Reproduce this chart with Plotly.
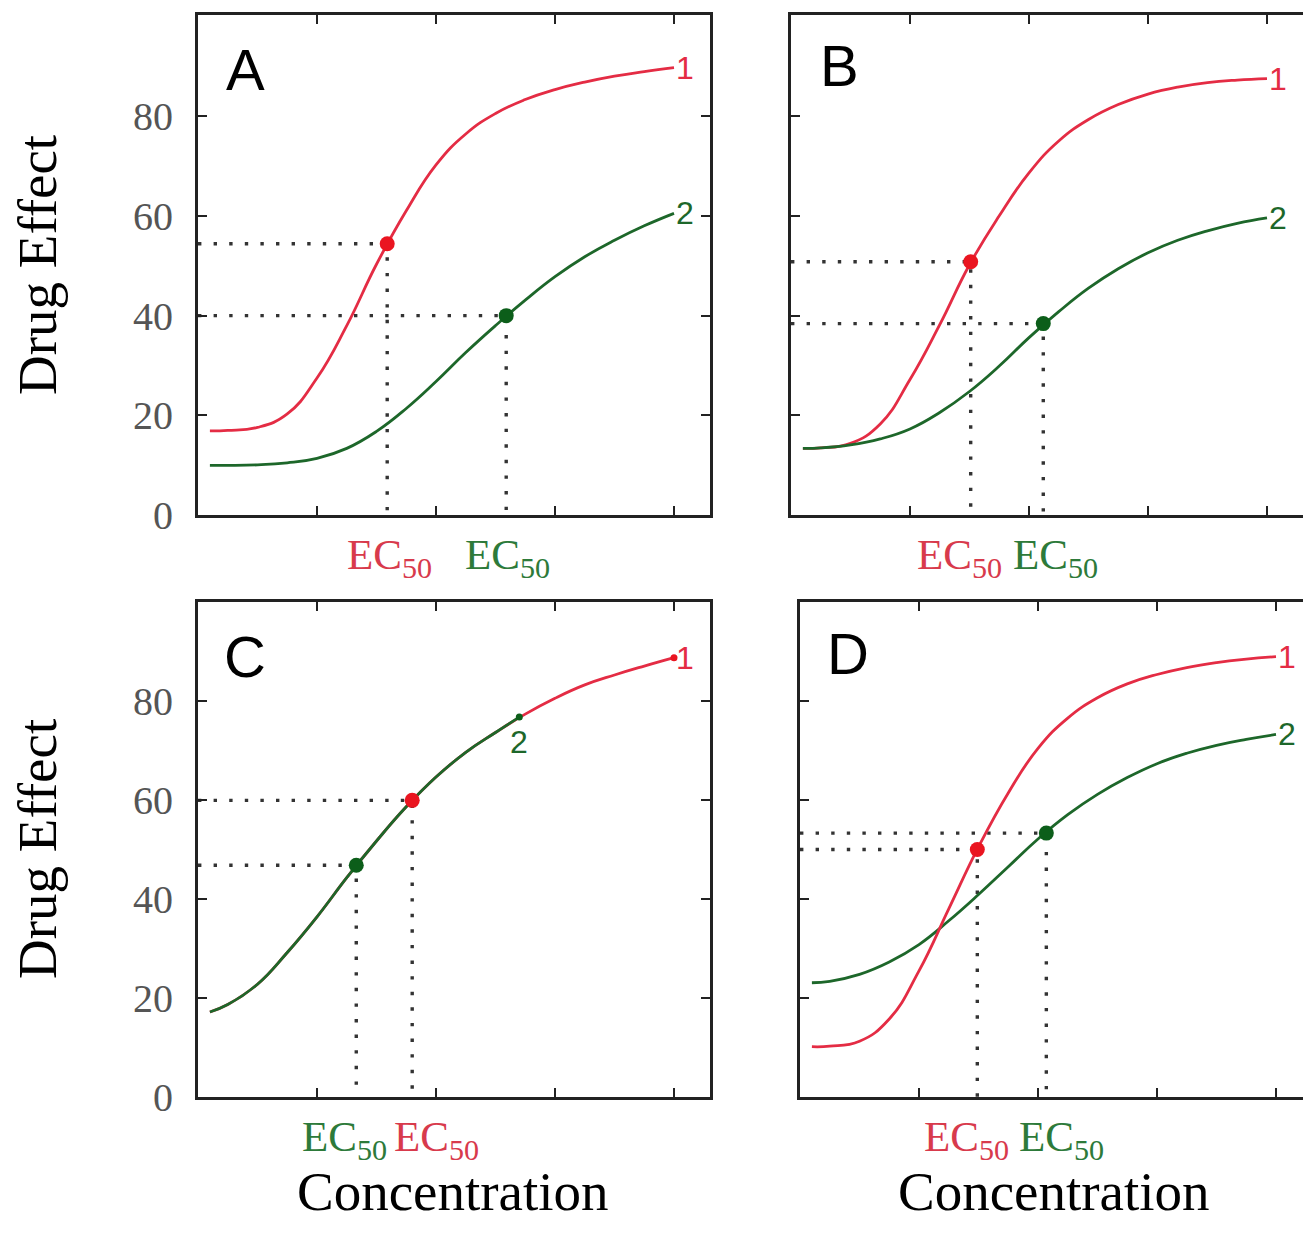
import plotly.graph_objects as go

W, H = 1303, 1239

# ---------------- data ----------------
# x: log-concentration units (tick marks at 1,2,3,4); y: drug effect
GRID_X = [0.1, 0.25, 0.5, 0.75, 1.0, 1.25, 1.5, 1.75, 2.0, 2.25, 2.5, 2.75, 3.0, 3.25, 3.5, 3.75, 4.0]

A_red_x = GRID_X
A_red_y = [16.9, 17.0, 17.6, 20.3, 27.5, 38.0, 50.3, 61.0, 70.2, 76.4, 80.5, 83.3, 85.3, 86.8, 88.0, 88.9, 89.7]
A_green_x = GRID_X
A_green_y = [10.0, 10.0, 10.1, 10.5, 11.4, 13.4, 16.8, 21.4, 26.8, 32.6, 38.0, 43.1, 47.8, 51.8, 55.1, 58.0, 60.5]

B_red_x = GRID_X
B_red_y = [13.4, 13.5, 14.4, 18.3, 27.2, 38.2, 50.2, 60.0, 68.6, 75.0, 79.3, 82.3, 84.4, 85.8, 86.7, 87.2, 87.5]
B_green_x = GRID_X
B_green_y = [13.4, 13.5, 14.1, 15.3, 17.3, 20.6, 24.8, 29.9, 35.6, 40.8, 45.5, 49.4, 52.6, 55.1, 57.0, 58.5, 59.6]

C_red_x = [0.1, 0.25, 0.5, 0.75, 1.0, 1.25, 1.5, 1.75, 2.0, 2.25, 2.5, 2.75, 3.0, 3.25, 3.5, 3.75, 4.0]
C_red_y = [17.2, 18.7, 22.8, 29.2, 36.4, 44.3, 51.7, 58.6, 64.6, 69.6, 73.6, 77.3, 80.5, 83.2, 85.2, 87.0, 88.7]
C_green_x = [0.1, 0.25, 0.5, 0.75, 1.0, 1.25, 1.5, 1.75, 2.0, 2.25, 2.5, 2.7]
C_green_y = [17.2, 18.7, 22.8, 29.2, 36.4, 44.3, 51.7, 58.6, 64.6, 69.6, 73.6, 76.7]

D_red_x = GRID_X
D_red_y = [10.2, 10.3, 11.3, 15.8, 25.5, 38.0, 50.5, 61.4, 70.4, 76.5, 80.6, 83.4, 85.3, 86.7, 87.7, 88.4, 88.9]
D_green_x = GRID_X
D_green_y = [23.1, 23.4, 24.8, 27.3, 30.8, 35.6, 40.9, 46.5, 52.1, 57.0, 61.1, 64.5, 67.3, 69.4, 71.0, 72.2, 73.2]

# EC50 points (x, effect)
A_ec50_red = (1.59, 54.4)
A_ec50_green = (2.59, 40.0)
B_ec50_red = (1.51, 50.8)
B_ec50_green = (2.12, 38.4)
C_ec50_green = (1.33, 46.8)
C_ec50_red = (1.8, 59.9)
D_ec50_red = (1.49, 50.0)
D_ec50_green = (2.07, 53.3)

y_tick_vals = [0, 20, 40, 60, 80]
y_tick_text = ["0", "20", "40", "60", "80"]
x_tick_vals = [1, 2, 3, 4]
panel_letters = ["A", "B", "C", "D"]
curve_names = ["1", "2"]

# ---------------- styles ----------------
RED = "#e42c44"
RED_DOT = "#ea1520"
RED_TXT = "#d83a4c"
GREEN = "#1d672a"
GREEN_DOT = "#0c5e1a"
GREEN_TXT = "#2d7a3a"
AXC = "#222222"
SERIF = "Liberation Serif, Times New Roman, serif"
SANS = "Liberation Sans, Arial, sans-serif"

fig = go.Figure()

# panel geometry in pixels: (x0, x1), (ytop, ybottom)
geom = {
    1: ((198, 710), (15, 525)),
    2: ((791, 1303), (15, 525)),
    3: ((198, 710), (613, 1118)),
    4: ((800, 1303), (613, 1118)),
}
PX_PER_X = 119.0


def ax(n, kind):
    return kind if n == 1 else f"{kind}{n}"


def add_dotted(n, pt):
    xa, ya = ax(n, "x"), ax(n, "y")
    fig.add_trace(go.Scatter(x=[0, pt[0], pt[0]], y=[pt[1], pt[1], 0], mode="lines",
                             line=dict(color="#333333", width=3.4, dash="3.4px,12.2px"),
                             xaxis=xa, yaxis=ya, showlegend=False, hoverinfo="skip"))


def add_curve(n, xs, ys, color):
    xa, ya = ax(n, "x"), ax(n, "y")
    fig.add_trace(go.Scatter(x=xs, y=ys, mode="lines",
                             line=dict(color=color, width=2.8, shape="spline", smoothing=1.3),
                             xaxis=xa, yaxis=ya, showlegend=False, hoverinfo="skip"))


def add_point(n, pt, color, size=15):
    xa, ya = ax(n, "x"), ax(n, "y")
    fig.add_trace(go.Scatter(x=[pt[0]], y=[pt[1]], mode="markers",
                             marker=dict(color=color, size=size),
                             xaxis=xa, yaxis=ya, showlegend=False, hoverinfo="skip"))


# Panel A
add_dotted(1, A_ec50_red)
add_dotted(1, A_ec50_green)
add_curve(1, A_red_x, A_red_y, RED)
add_curve(1, A_green_x, A_green_y, GREEN)
add_point(1, A_ec50_red, RED_DOT)
add_point(1, A_ec50_green, GREEN_DOT)

# Panel B
add_dotted(2, B_ec50_red)
add_dotted(2, B_ec50_green)
add_curve(2, B_red_x, B_red_y, RED)
add_curve(2, B_green_x, B_green_y, GREEN)
add_point(2, B_ec50_red, RED_DOT)
add_point(2, B_ec50_green, GREEN_DOT)

# Panel C
add_dotted(3, C_ec50_green)
add_dotted(3, C_ec50_red)
add_curve(3, C_red_x, C_red_y, RED)
add_curve(3, C_green_x, C_green_y, GREEN)
add_point(3, (C_red_x[-1], C_red_y[-1]), RED_DOT, 7)
add_point(3, (C_green_x[-1], C_green_y[-1]), GREEN_DOT, 7)
add_point(3, C_ec50_green, GREEN_DOT)
add_point(3, C_ec50_red, RED_DOT)

# Panel D
add_dotted(4, D_ec50_red)
add_dotted(4, D_ec50_green)
add_curve(4, D_green_x, D_green_y, GREEN)
add_curve(4, D_red_x, D_red_y, RED)
add_point(4, D_ec50_red, RED_DOT)
add_point(4, D_ec50_green, GREEN_DOT)

layout = dict(width=W, height=H, margin=dict(l=0, r=0, t=0, b=0),
              paper_bgcolor="white", plot_bgcolor="white", showlegend=False)

for n, ((x0, x1), (yt, yb)) in geom.items():
    xr = (x1 - x0) / PX_PER_X
    yr = 100.3 if n <= 2 else 100.0
    right_cut = n in (2, 4)
    layout["xaxis" if n == 1 else f"xaxis{n}"] = dict(
        domain=[x0 / W, x1 / W], anchor=ax(n, "y"), range=[0, xr],
        tickvals=x_tick_vals, showticklabels=False, ticks="inside", ticklen=9,
        tickwidth=2, tickcolor=AXC, showline=True, linewidth=3, linecolor=AXC,
        mirror="ticks", showgrid=False, zeroline=False, fixedrange=True)
    layout["yaxis" if n == 1 else f"yaxis{n}"] = dict(
        domain=[1 - yb / H, 1 - yt / H], anchor=ax(n, "x"), range=[0, yr],
        tickvals=y_tick_vals, ticktext=y_tick_text, showticklabels=(n in (1, 3)),
        tickfont=dict(family=SERIF, size=40, color="#555555"), ticklabelstandoff=14,
        ticks="inside", ticklen=9, tickwidth=2, tickcolor=AXC, showline=True,
        linewidth=3, linecolor=AXC, mirror=(False if right_cut else "ticks"),
        showgrid=False, zeroline=False, fixedrange=True)
    if right_cut:
        # right-hand inner ticks only (the frame's right edge lies outside the picture)
        layout[f"yaxis{n + 3}"] = dict(
            domain=[1 - yb / H, 1 - yt / H], overlaying=ax(n, "y"), anchor=ax(n, "x"),
            side="right", range=[0, yr], tickvals=y_tick_vals, showticklabels=False,
            ticks="inside", ticklen=9, tickwidth=2, tickcolor=AXC, showline=False,
            showgrid=False, zeroline=False, fixedrange=True)

annotations = []

# panel letters
letter_pos = [(0.092, 0.89), (0.094, 0.898), (0.092, 0.889), (0.095, 0.895)]
for n, (lx, ly) in zip(range(1, 5), letter_pos):
    annotations.append(dict(text=panel_letters[n - 1], xref=f"{ax(n, 'x')} domain",
                            yref=f"{ax(n, 'y')} domain", x=lx, y=ly, showarrow=False,
                            xanchor="center", yanchor="middle",
                            font=dict(family=SANS, size=58, color="black")))


def curve_label(n, xs, ys, name, color, below=False):
    if below:
        annotations.append(dict(text=name, xref=ax(n, "x"), yref=ax(n, "y"), x=xs[-1], y=ys[-1],
                                showarrow=False, xanchor="center", yanchor="top", yshift=-5,
                                font=dict(family=SANS, size=32, color=color)))
    else:
        annotations.append(dict(text=name, xref=ax(n, "x"), yref=ax(n, "y"), x=xs[-1], y=ys[-1],
                                showarrow=False, xanchor="left", yanchor="middle", xshift=0,
                                font=dict(family=SANS, size=32, color=color)))


curve_label(1, A_red_x, A_red_y, curve_names[0], RED)
curve_label(1, A_green_x, A_green_y, curve_names[1], GREEN)
curve_label(2, B_red_x, B_red_y, curve_names[0], RED)
curve_label(2, B_green_x, B_green_y, curve_names[1], GREEN)
curve_label(3, C_red_x, C_red_y, curve_names[0], RED)
curve_label(3, C_green_x, C_green_y, curve_names[1], GREEN, below=True)
curve_label(4, D_red_x, D_red_y, curve_names[0], RED)
curve_label(4, D_green_x, D_green_y, curve_names[1], GREEN)

# EC50 labels (label centres in x units)
ec_labels = [
    (1, 1.61, RED_TXT), (1, 2.605, GREEN_TXT),
    (2, 1.42, RED_TXT), (2, 2.22, GREEN_TXT),
    (3, 1.235, GREEN_TXT), (3, 2.0, RED_TXT),
    (4, 1.40, RED_TXT), (4, 2.20, GREEN_TXT),
]
for n, lx, col in ec_labels:
    annotations.append(dict(text="EC<sub>50</sub>", xref=ax(n, "x"), yref=f"{ax(n, 'y')} domain",
                            x=lx, y=0, yshift=-14, showarrow=False, xanchor="center",
                            yanchor="top", font=dict(family=SERIF, size=43, color=col)))

# axis titles
for yc in (270, 865):
    annotations.append(dict(text="Drug Effect", xref="paper", yref="paper", x=38 / W,
                            y=1 - yc / H, textangle=-90, showarrow=False, xanchor="center",
                            yanchor="middle", font=dict(family=SERIF, size=55, color="black")))
for xc in (453, 1054):
    annotations.append(dict(text="Concentration", xref="paper", yref="paper", x=xc / W,
                            y=1 - 1214 / H, showarrow=False, xanchor="center",
                            yanchor="middle", font=dict(family=SERIF, size=55, color="black")))

layout["annotations"] = annotations
fig.update_layout(**layout)
fig.write_html("out.html")
